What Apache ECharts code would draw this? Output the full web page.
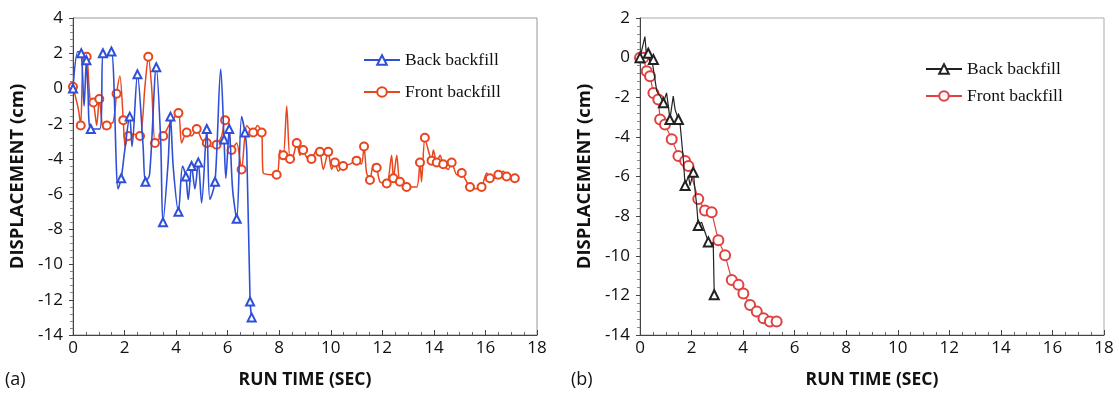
<!DOCTYPE html>
<html>
<head>
<meta charset="utf-8">
<script src="https://cdn.jsdelivr.net/npm/echarts@6/dist/echarts.min.js"></script>
<style>html,body{margin:0;padding:0;background:#fff}#c{width:1119px;height:394px}</style>
</head>
<body>
<div id="c"></div>
<script>
// ---- Data (a) ----
const backT_a = [0, 0.19, 0.32, 0.43, 0.52, 0.58, 0.69, 1.04, 1.16, 1.29, 1.49, 1.75, 1.87, 2.0, 2.2, 2.29, 2.5, 2.72, 2.81, 2.97, 3.23, 3.4, 3.49, 3.69, 3.78, 3.89, 4.09, 4.25, 4.38, 4.47, 4.6, 4.73, 4.86, 4.99, 5.19, 5.31, 5.51, 5.73, 5.86, 5.93, 6.06, 6.19, 6.35, 6.54, 6.67, 6.74, 6.87, 6.93];
const backY_a = [0, 2.1, 2.0, -1.0, 1.6, -0.1, -2.3, -2.3, 2.0, 1.8, 2.1, -5.7, -5.1, -3.6, -1.6, -3.3, 0.8, -3.3, -5.3, -4.9, 1.2, -2.9, -7.6, -4.2, -1.6, -4.5, -7.0, -4.4, -5.0, -6.3, -4.4, -5.7, -4.2, -6.5, -2.3, -6.3, -5.3, 1.1, -2.9, -5.1, -2.3, -5.7, -7.4, -1.6, -2.5, -3.5, -12.1, -13.0];
const frontT_a = [0, 0.21, 0.30, 0.40, 0.53, 0.66, 0.79, 0.92, 1.02, 1.18, 1.31, 1.56, 1.69, 1.82, 1.95, 2.02, 2.15, 2.34, 2.60, 2.79, 2.92, 3.05, 3.18, 3.31, 3.50, 3.76, 4.09, 4.21, 4.41, 4.60, 4.80, 4.99, 5.19, 5.38, 5.57, 5.77, 5.90, 6.03, 6.15, 6.35, 6.54, 6.74, 6.99, 7.15, 7.32, 7.38, 7.9, 8.03, 8.16, 8.29, 8.42, 8.55, 8.68, 8.81, 8.93, 9.06, 9.25, 9.45, 9.58, 9.71, 9.9, 10.03, 10.16, 10.29, 10.48, 10.74, 11.0, 11.19, 11.29, 11.39, 11.52, 11.65, 11.78, 11.91, 12.17, 12.36, 12.43, 12.56, 12.68, 12.81, 12.94, 13.33, 13.46, 13.52, 13.65, 13.78, 13.91, 13.98, 14.11, 14.24, 14.36, 14.56, 14.69, 14.89, 15.08, 15.2, 15.4, 15.66, 15.85, 16.05, 16.17, 16.37, 16.5, 16.69, 16.82, 16.95, 17.14];
const frontY_a = [0.1, -1.2, -2.1, 1.8, 1.8, -0.6, -0.8, -2.1, -0.6, -2.3, -2.1, -1.9, -0.3, 0.7, -1.8, -3.3, -2.7, -2.6, -2.7, 0.1, 1.8, 0.1, -3.1, -2.9, -2.7, -2.0, -1.4, -3.1, -2.5, -2.7, -2.3, -2.9, -3.1, -3.3, -3.2, -2.7, -1.8, -1.9, -3.5, -3.1, -4.6, -2.1, -2.5, -2.1, -2.5, -4.8, -4.9, -3.5, -3.8, -1.0, -4.0, -3.8, -3.1, -3.8, -3.5, -3.9, -4.0, -3.5, -3.6, -4.6, -3.6, -4.6, -4.2, -4.7, -4.4, -4.3, -4.1, -4.3, -3.3, -4.8, -5.2, -4.3, -4.5, -5.3, -5.4, -3.8, -5.1, -3.8, -5.3, -5.2, -5.6, -5.6, -4.2, -5.3, -2.8, -3.5, -4.1, -3.5, -4.2, -3.8, -4.3, -4.6, -4.2, -4.9, -4.8, -5.1, -5.6, -5.7, -5.6, -4.8, -5.1, -5.1, -4.9, -4.7, -5.0, -5.1, -5.1];
// ---- Data (b) ----
const backT_b = [0, 0.19, 0.26, 0.32, 0.39, 0.45, 0.52, 0.65, 0.78, 0.91, 1.03, 1.1, 1.16, 1.29, 1.36, 1.49, 1.55, 1.68, 1.75, 1.88, 1.94, 2.07, 2.13, 2.2, 2.26, 2.39, 2.52, 2.65, 2.78, 2.84, 2.88];
const backY_b = [0, 1.06, 0, 0.22, -0.27, 0, -0.1, -1.69, -1.94, -2.28, -1.78, -2.45, -3.12, -1.94, -2.61, -3.12, -3.28, -5.12, -6.46, -5.96, -6.46, -5.79, -6.63, -7.46, -8.47, -8.3, -8.8, -9.3, -9.47, -9.3, -11.97];
const frontT_b = [0, 0.13, 0.26, 0.39, 0.52, 0.71, 0.78, 0.97, 1.23, 1.49, 1.75, 1.88, 2.26, 2.52, 2.78, 3.04, 3.3, 3.56, 3.82, 4.01, 4.27, 4.53, 4.79, 5.04, 5.3];
const frontY_b = [0, 0, -0.69, -0.94, -1.78, -2.11, -3.12, -3.37, -4.12, -4.96, -5.22, -5.47, -7.13, -7.72, -7.8, -9.22, -9.97, -11.22, -11.47, -11.9, -12.48, -12.81, -13.15, -13.32, -13.32];
const seriesNames = ['Back backfill', 'Front backfill'];
const panelLabels = ['(a)', '(b)'];

function pts(T, Y, sym, every) {
  return T.map((t, i) => ({ value: [t, Y[i]], symbol: (i % every === 0 || i === T.length - 1) ? sym : 'none' }));
}

const axisFont = { fontFamily: 'Open Sans', fontSize: 17, color: '#111' };
const nameFont = { fontFamily: 'Open Sans', fontSize: 17.5, fontWeight: 'bold', color: '#111' };

function xAxis(gi) {
  return {
    type: 'value', gridIndex: gi, min: 0, max: 18, interval: 2,
    name: 'RUN TIME (SEC)', nameLocation: 'middle', nameGap: 36, nameTextStyle: nameFont,
    axisLine: { show: true, onZero: false, lineStyle: { color: '#444', width: 1 } },
    axisTick: { show: true, inside: true, length: 5, lineStyle: { color: '#444' } },
    minorTick: { show: true, splitNumber: 4, length: 3, lineStyle: { color: '#666' } },
    axisLabel: Object.assign({ margin: 5 }, axisFont),
    splitLine: { show: false }
  };
}
function yAxis(gi, min, max) {
  return {
    type: 'value', gridIndex: gi, min: min, max: max, interval: 2,
    name: 'DISPLACEMENT (cm)', nameLocation: 'middle', nameGap: 46, nameRotate: 90,
    nameTextStyle: Object.assign({}, nameFont, { fontSize: 18.5 }),
    axisLine: { show: true, onZero: false, lineStyle: { color: '#444', width: 1 } },
    axisTick: { show: true, length: 4, lineStyle: { color: '#444' } },
    minorTick: { show: true, splitNumber: 5, length: 3, lineStyle: { color: '#888' } },
    axisLabel: Object.assign({ margin: 10 }, axisFont),
    splitLine: { show: false }
  };
}
const legendText = { fontFamily: 'Liberation Serif', fontSize: 17.5, color: '#111' };

const chart = echarts.init(document.getElementById('c'), null, { renderer: 'canvas' });
chart.setOption({
  animation: false,
  backgroundColor: '#fff',
  grid: [
    { left: 73, right: 582, top: 18, bottom: 57, show: true, borderColor: '#999', borderWidth: 1 },
    { left: 640, right: 15, top: 18, bottom: 57, show: true, borderColor: '#aaa', borderWidth: 1 }
  ],
  xAxis: [xAxis(0), xAxis(1)],
  yAxis: [yAxis(0, -14, 4), yAxis(1, -14, 2)],
  legend: [
    { orient: 'vertical', left: 358, top: 46, itemWidth: 36, itemHeight: 12, itemGap: 14, textStyle: legendText,
      data: ['a:' + seriesNames[0], 'a:' + seriesNames[1]], formatter: n => n.slice(2) },
    { orient: 'vertical', left: 920, top: 55, itemWidth: 36, itemHeight: 12, itemGap: 9, textStyle: legendText,
      data: ['b:' + seriesNames[0], 'b:' + seriesNames[1]], formatter: n => n.slice(2) }
  ],
  graphic: [
    { type: 'text', left: 5, top: 371, style: { text: panelLabels[0], fontFamily: 'Open Sans', fontSize: 18, fill: '#111' } },
    { type: 'text', left: 571, top: 371, style: { text: panelLabels[1], fontFamily: 'Open Sans', fontSize: 18, fill: '#111' } }
  ],
  series: [
    { name: 'a:' + seriesNames[1], type: 'line', xAxisIndex: 0, yAxisIndex: 0, smooth: 0.25,
      symbol: 'emptyCircle', symbolSize: 8, color: '#e8461e', lineStyle: { width: 1.5 },
      itemStyle: { borderWidth: 1 }, data: pts(frontT_a, frontY_a, 'emptyCircle', 2), z: 2 },
    { name: 'a:' + seriesNames[0], type: 'line', xAxisIndex: 0, yAxisIndex: 0, smooth: 0.3,
      symbol: 'emptyTriangle', symbolSize: 8, color: '#2f4fd8', lineStyle: { width: 1.6 },
      itemStyle: { borderWidth: 1 }, data: pts(backT_a, backY_a, 'emptyTriangle', 2), z: 3 },
    { name: 'b:' + seriesNames[1], type: 'line', xAxisIndex: 1, yAxisIndex: 1, smooth: false,
      symbol: 'emptyCircle', symbolSize: 10, color: '#e04040', lineStyle: { width: 1.2 },
      itemStyle: { borderWidth: 1 }, data: pts(frontT_b, frontY_b, 'emptyCircle', 1), z: 2 },
    { name: 'b:' + seriesNames[0], type: 'line', xAxisIndex: 1, yAxisIndex: 1, smooth: false,
      symbol: 'emptyTriangle', symbolSize: 9, color: '#222', lineStyle: { width: 1.2 },
      itemStyle: { borderWidth: 1 }, data: pts(backT_b, backY_b, 'emptyTriangle', 3), z: 3 }
  ]
});
</script>
</body>
</html>
